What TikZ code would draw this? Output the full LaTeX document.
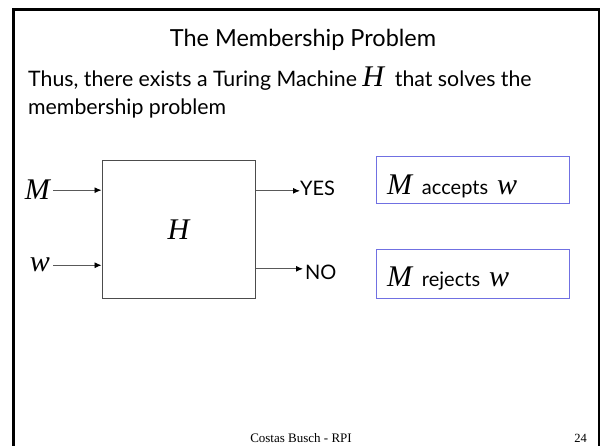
\documentclass[tikz,border=0pt]{standalone}
\usepackage{fontspec}
\setmainfont{Lato}
\newfontfamily\tms{Liberation Serif}
\usetikzlibrary{positioning,arrows.meta}
\definecolor{boxblue}{RGB}{112,112,226}
\newcommand{\sym}[1]{{\tms\itshape\fontsize{30}{30}\selectfont #1}}

\tikzset{
  machine/.style={draw=black!70, line width=1pt, minimum width=153pt, minimum height=138pt},
  resbox/.style={draw=boxblue, line width=1pt, minimum width=193pt, text width=171pt, inner xsep=11pt,
    inner ysep=0pt, align=left, font=\fontsize{20}{24}\selectfont},
  wire/.style={-{Latex[length=7pt,width=6pt,black]}, draw=black!65, line width=0.9pt},
  txt/.style={inner sep=0pt}
}

\begin{document}
\begin{tikzpicture}[x=1pt, y=1pt, every node/.style={font=\fontsize{21.3}{28}\selectfont}]
\useasboundingbox (0,0) rectangle (602,446);
% slide frame
\draw[line width=3pt] (13,-14) -- (13,436) -- (600,436);
\draw[line width=1.5pt] (599,436) -- (599,-14);

\node[txt, anchor=base, font=\fontsize{23.5}{28}\selectfont] (title) at (303,399) {The Membership Problem};
\node[txt, anchor=base west] (intro) at (28,359) {Thus, there exists a Turing Machine \sym{H}\ \ that solves the};
\node[txt, anchor=base west] (intro2) at (28,331) {membership problem};

\node[machine] (H) at (178.5,216) {\sym{H}\hspace{6pt}};
\node[txt, anchor=base east] (M) at (50,246) {\sym{M}};
\node[txt, anchor=base east] (w) at (50,174) {\sym{w}};
\node[txt, anchor=base west, font=\fontsize{20}{24}\selectfont] (yes) at (300,250) {YES};
\node[txt, anchor=base west, font=\fontsize{20}{24}\selectfont] (no) at (305,166) {NO};

\draw[wire, shorten <=3pt] (M) -- (M -| H.west);
\draw[wire, shorten <=3pt] (w) -- (w -| H.west);
\draw[wire] ([yshift=-2pt]H.east |- yes.west) -- ([yshift=-2pt]yes.west);
\draw[wire] ([yshift=4pt]H.east |- no.west) -- ([yshift=4pt,xshift=-2pt]no.west);

\node[resbox, text height=38pt, text depth=9pt] (acc) at (472.5,265.5) {\sym{M}\hspace{10pt}accepts\hspace{9pt}\sym{w}};
\node[resbox, text height=37pt, text depth=12pt] (rej) at (472.5,171.5) {\sym{M}\hspace{10pt}rejects\hspace{9pt}\sym{w}};

\node[txt, anchor=base, font=\tms\fontsize{13}{13}\selectfont] (foot) at (301,3) {Costas Busch - RPI};
\node[txt, anchor=base east, font=\tms\fontsize{12.5}{12.5}\selectfont] (page) at (587,3) {24};
\end{tikzpicture}
\end{document}
